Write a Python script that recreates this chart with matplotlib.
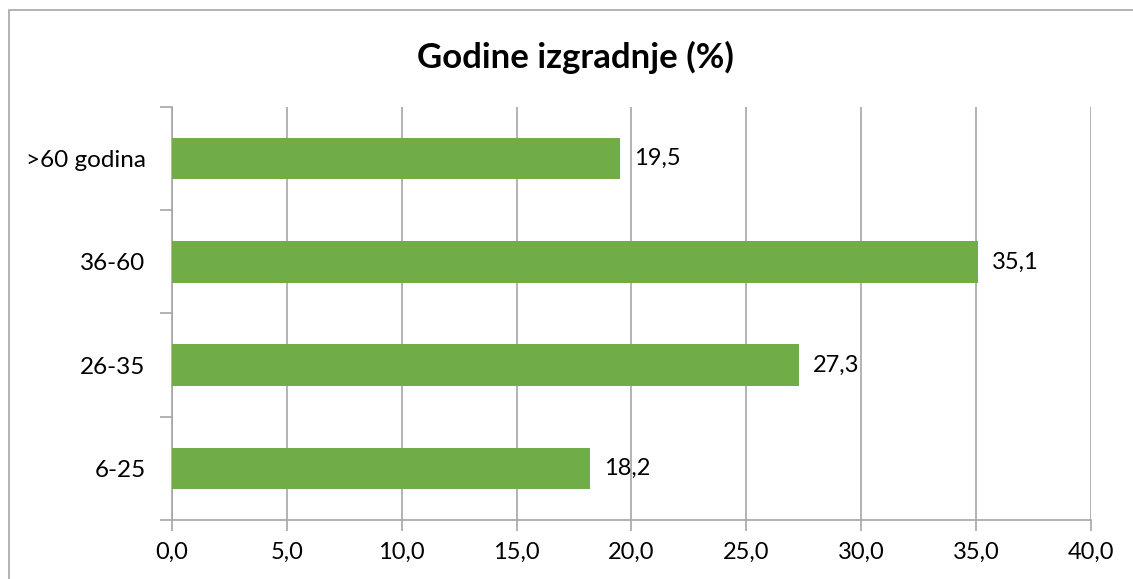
import matplotlib.pyplot as plt
from matplotlib.patches import Rectangle

# Data
categories = ['6-25', '26-35', '36-60', '>60 godina']
values = [18.2, 27.3, 35.1, 19.5]
x_ticks = [0, 5, 10, 15, 20, 25, 30, 35, 40]
title = 'Godine izgradnje (%)'

plt.rcParams['font.family'] = ['Lato', 'DejaVu Sans']

fig = plt.figure(figsize=(11.33, 5.79), dpi=100)
ax = fig.add_axes([0.1518, 0.1019, 0.8111, 0.7133])

# outer chart frame
fig.patches.append(Rectangle((9 / 1133, -0.05), 1.2, 1 - 10 / 579 + 0.05,
                             transform=fig.transFigure, fill=False,
                             edgecolor='#a6a6a6', linewidth=1.2))

ypos = list(range(len(categories)))
ax.barh(ypos, values, height=0.4, color='#70ad47', zorder=3)

for y, v in zip(ypos, values):
    ax.text(v + 0.6, y, f'{v:.1f}'.replace('.', ','), va='center', ha='left',
            fontsize=17, color='black')

ax.set_xlim(0, 40)
ax.set_ylim(-0.5, len(categories) - 0.5)
ax.set_xticks(x_ticks)
ax.set_xticklabels([f'{t:.1f}'.replace('.', ',') for t in x_ticks], fontsize=17)
ax.set_yticks(ypos)
ax.set_yticklabels(categories, fontsize=17.5)
ax.set_yticks([i - 0.5 for i in range(len(categories) + 1)], minor=True)

ax.tick_params(axis='y', which='major', length=0, pad=19)
ax.tick_params(axis='y', which='minor', length=9, color='#a6a6a6', width=1.2)
ax.tick_params(axis='x', length=8, color='#a6a6a6', width=1.2, pad=8)

ax.grid(axis='x', color='#a6a6a6', linewidth=1.2, zorder=0)
for side in ['top', 'right']:
    ax.spines[side].set_visible(False)
for side in ['left', 'bottom']:
    ax.spines[side].set_color('#a6a6a6')
    ax.spines[side].set_linewidth(1.2)

fig.text(0.508, 0.9, title, ha='center', va='center', fontsize=25,
         fontweight='bold')

fig.savefig('out.png', dpi=100)
